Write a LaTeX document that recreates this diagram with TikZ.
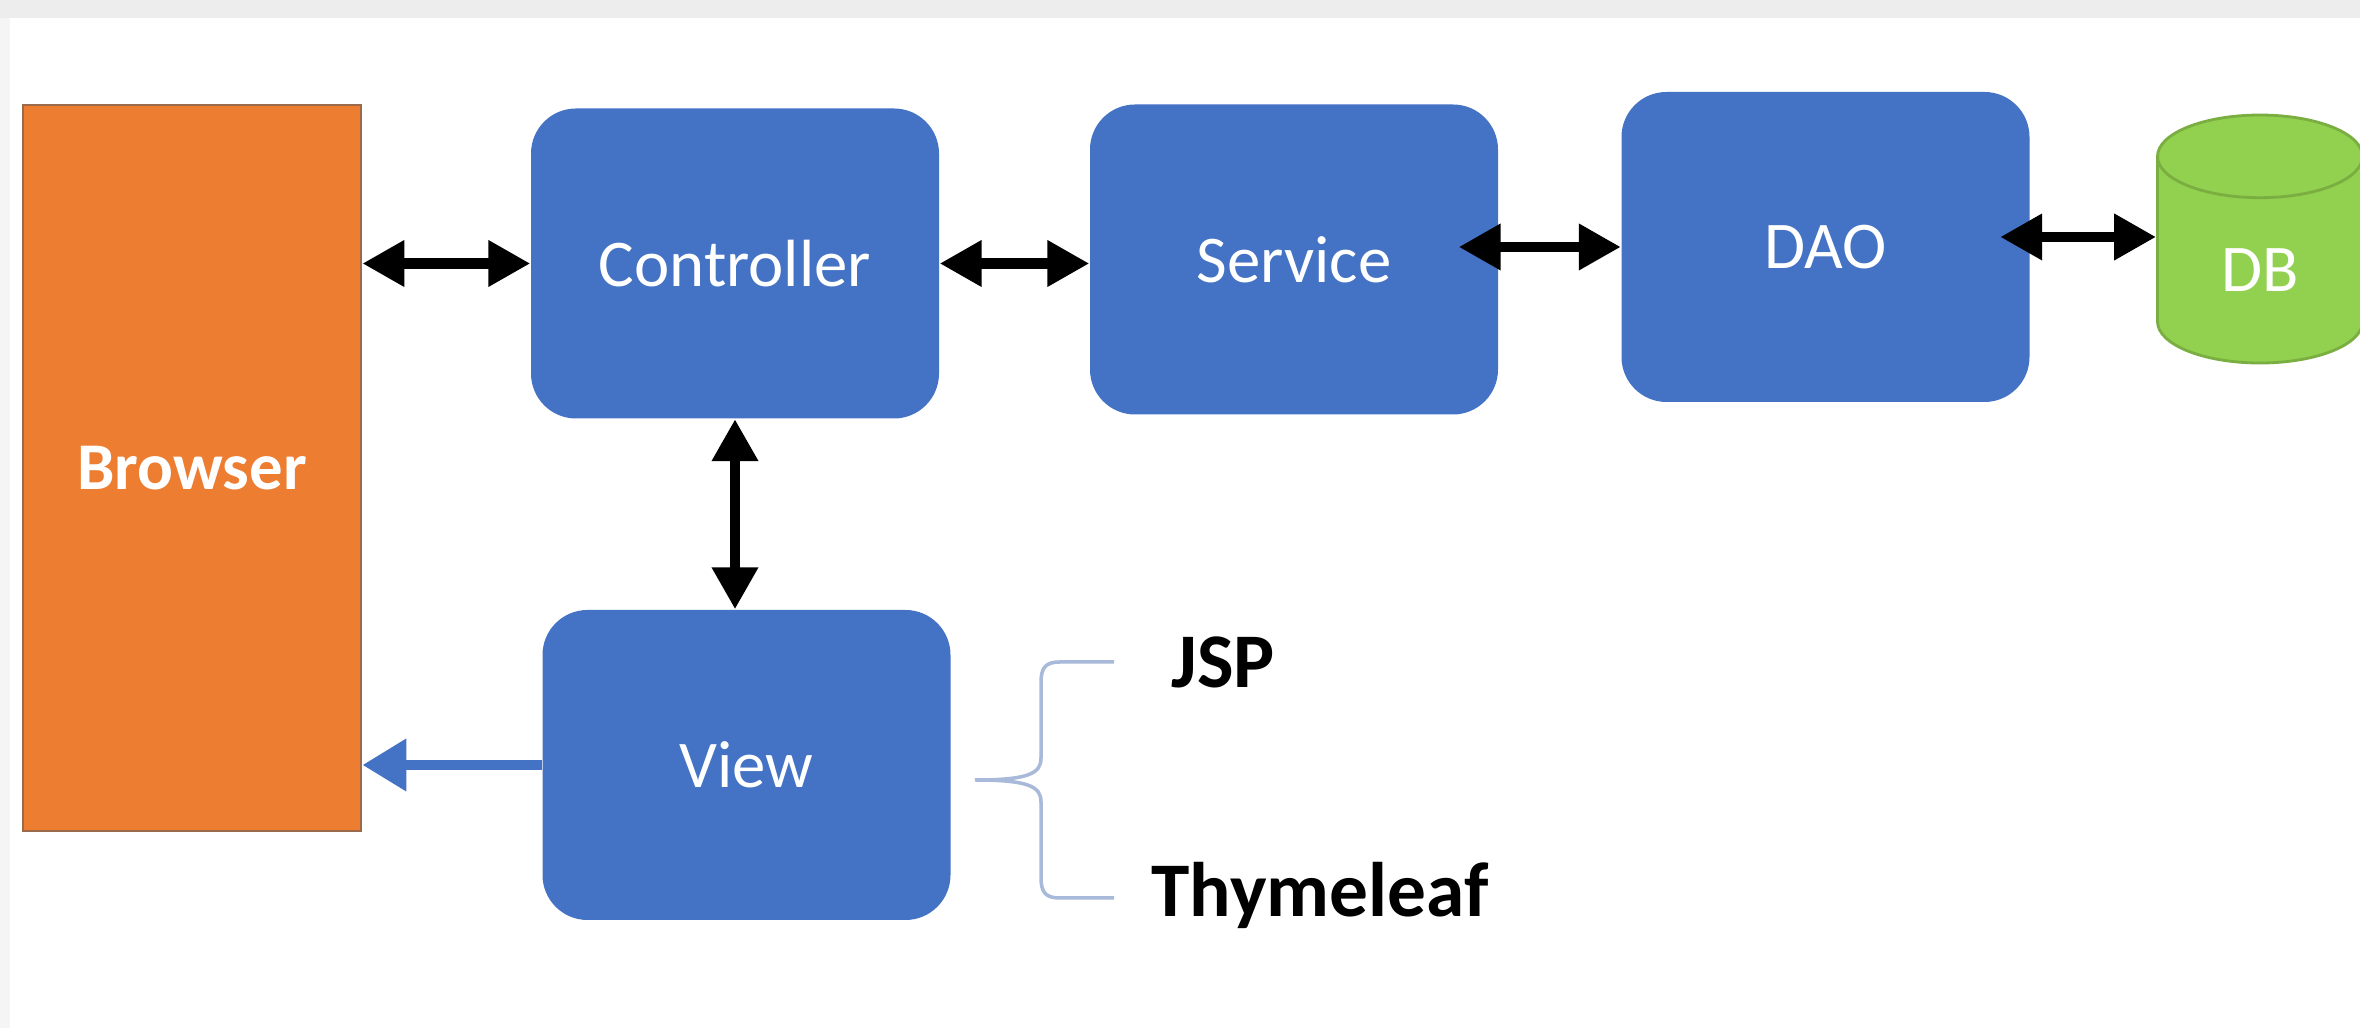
\documentclass[tikz,border=0pt]{standalone}
\usepackage{fontspec}
\setmainfont{Carlito}
\usepackage{tikz}
\usetikzlibrary{shapes.geometric,arrows.meta,positioning,calc}
\definecolor{officeblue}{HTML}{4472C4}
\definecolor{officeorange}{HTML}{ED7D31}
\definecolor{orangeedge}{HTML}{9A6A4A}
\definecolor{officegreen}{HTML}{92D050}
\definecolor{greenedge}{HTML}{7AAE40}
\definecolor{braceline}{HTML}{A9B9DA}
\tikzstyle{layer} = [fill=officeblue, draw=none, rectangle, rounded corners=.45cm, minimum width=4.08cm, minimum height=3.1cm, text=white, font=\fontsize{19}{22}\selectfont]
\tikzstyle{client} = [fill=officeorange, draw=orangeedge, line width=.8pt, rectangle, minimum width=3.38cm, minimum height=7.26cm, text=white, font=\fontsize{19}{22}\selectfont\bfseries]
\tikzstyle{store} = [cylinder, shape border rotate=90, aspect=.82, fill=officegreen, draw=greenedge, line width=.8pt, minimum width=2.05cm, minimum height=2.48cm, text=white, font=\fontsize{19}{22}\selectfont]
\tikzstyle{engine} = [font=\fontsize{22}{26}\selectfont\bfseries, anchor=west, inner sep=0pt]
\tikzstyle{Arrow} = [{Triangle[length=4.2mm,width=4.4mm]}-{Triangle[length=4.2mm,width=4.4mm]}, line width=2.9pt]
\tikzstyle{Back} = [-{Triangle[length=4.4mm,width=5mm]}, line width=3pt, officeblue]

\begin{document}
\begin{tikzpicture}
            %%%%% Page %%%%%
            \useasboundingbox (0,0) rectangle (23.6,10.28);
            \fill[white] (0,0) rectangle (23.6,10.28);
            \fill[black!7] (0,10.1) rectangle (23.6,10.28);
            \fill[black!4] (0,0) rectangle (.1,10.1);
            %%%%% Boxes %%%%%
            \node (A) [client] at (1.92,5.6) {Browser};
            \node (B) [layer] at (7.35,7.645) {Controller};
            \node (C) [layer] at (12.94,7.685) {Service};
            \node (D) [layer] at (18.255,7.81) {DAO};
            \node (E) [store] at (22.6,7.58) {DB};
            \node (F) [layer] at (7.465,2.63) {View};
            %%%%% Arrows %%%%%
            \draw [Arrow] (A.east |- B) -- (B.west);
            \draw [Arrow] (B.east) -- (B.east -| C.west);
            \draw [Arrow, shorten <=-.4cm] (D.west -| C.east) -- (D.west);
            \draw [Arrow, shorten <=-.3cm] ($(D.east)+(0,.1)$) -- ($(D.east -| E.west)+(0,.1)$);
            \draw [Arrow] (B.south) -- (B.south |- F.north);
            \draw [Back] (F.west) -- (F.west -| A.east);
            %%%%% Templates %%%%%
            \coordinate (T) at (9.75,2.48);
            \draw [braceline, line width=1pt] (11.14,3.66) -- (10.6,3.66) .. controls (10.45,3.66) and (10.41,3.6) .. (10.41,3.45) -- (10.41,2.7) .. controls (10.41,2.55) and (10.3,2.48) .. (T) .. controls (10.3,2.48) and (10.41,2.41) .. (10.41,2.26) -- (10.41,1.51) .. controls (10.41,1.36) and (10.45,1.3) .. (10.6,1.3) -- (11.14,1.3);
            \node (G) [engine] at (11.71,3.66) {JSP};
            \node (H) [engine] at (11.51,1.33) {Thymeleaf};
\end{tikzpicture}
\end{document}
